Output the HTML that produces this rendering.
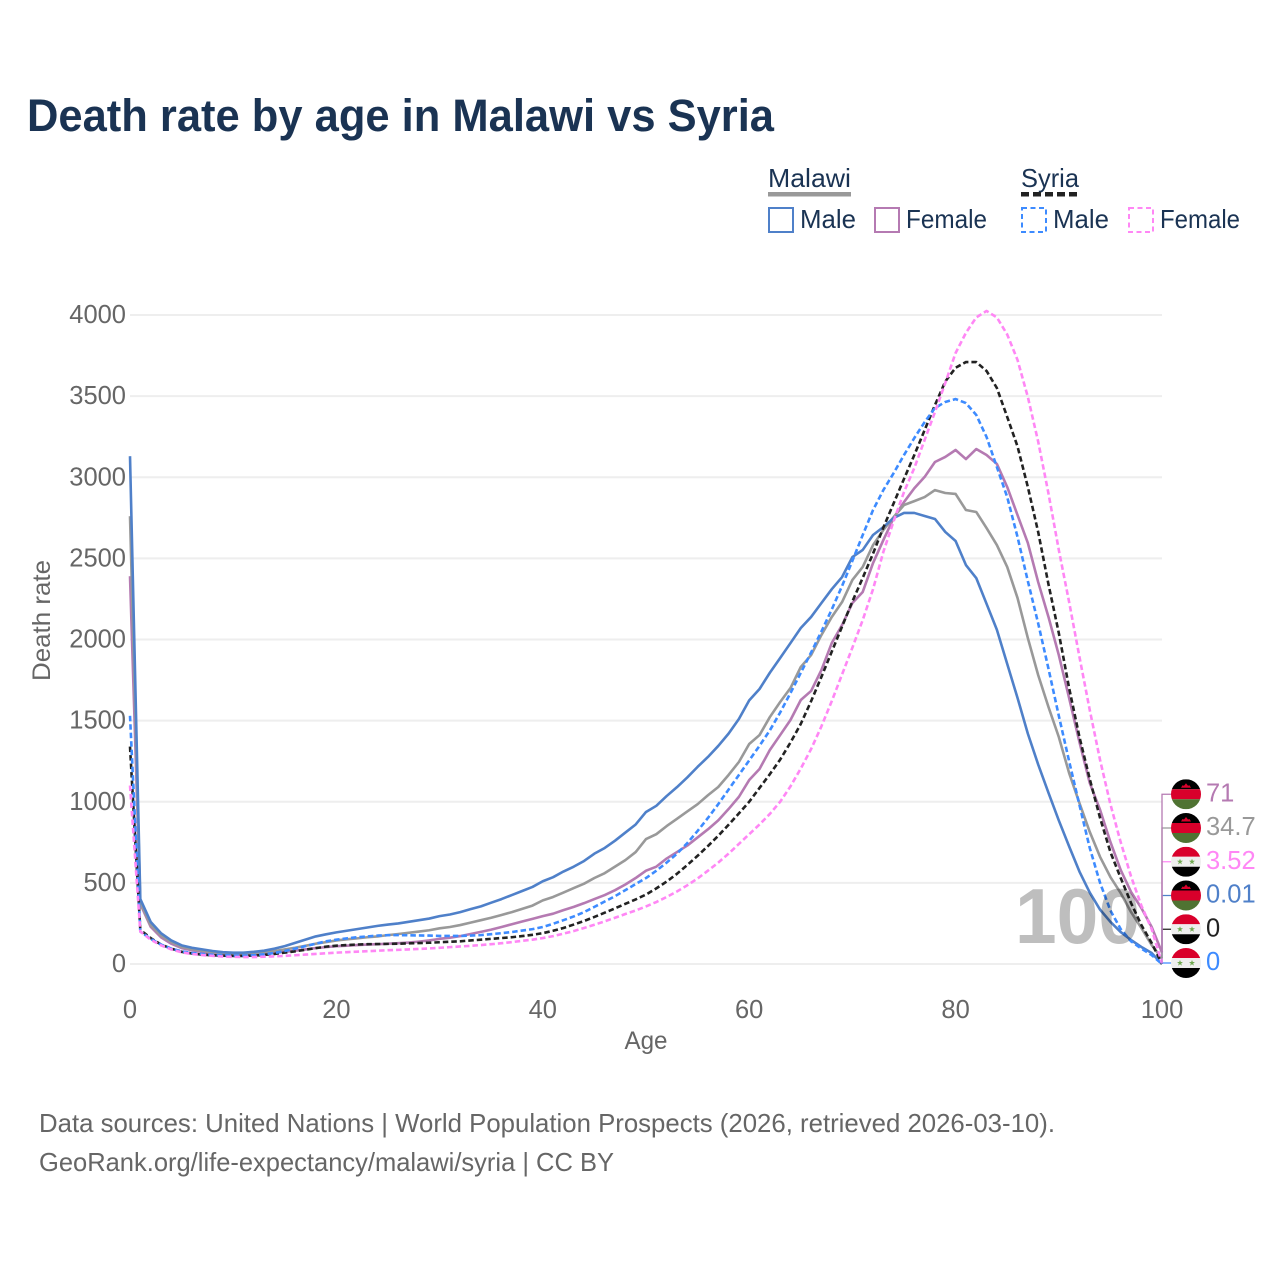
<!DOCTYPE html>
<html lang="en">
<head>
<meta charset="utf-8">
<title>Death rate by age in Malawi vs Syria</title>
<style>
html,body{margin:0;padding:0;background:#fff;}
svg{display:block;}
text{font-family:"Liberation Sans",sans-serif;}
</style>
</head>
<body>
<svg id="chart" xmlns="http://www.w3.org/2000/svg" width="1280" height="1280" viewBox="0 0 1280 1280">
  <rect x="0" y="0" width="1280" height="1280" fill="#fff"/>
  <defs>
    <clipPath id="flag-clip"><circle cx="0" cy="0" r="15"/></clipPath>
  </defs>
  <text x="27" y="131" font-size="45" font-weight="700" fill="#1a3353" textLength="747" lengthAdjust="spacingAndGlyphs">Death rate by age in Malawi vs Syria</text>

  <g>
    <text x="768" y="187" font-size="26" fill="#1a3353" textLength="83" lengthAdjust="spacingAndGlyphs">Malawi</text>
    <rect x="768" y="192" width="83" height="4.5" fill="#999"/>
    <text x="1021" y="187" font-size="26" fill="#1a3353" textLength="58" lengthAdjust="spacingAndGlyphs">Syria</text>
    <line x1="1021" y1="194.2" x2="1079" y2="194.2" stroke="#222" stroke-width="4.5" stroke-dasharray="8 4"/>

    <g>
      <rect x="769" y="208" width="24" height="24" fill="none" stroke="#4f80c9" stroke-width="2"/>
      <text x="800" y="228" font-size="26" fill="#1a3353" textLength="56" lengthAdjust="spacingAndGlyphs">Male</text>
    </g>
    <g>
      <rect x="875" y="208" width="24" height="24" fill="none" stroke="#b57ab2" stroke-width="2"/>
      <text x="906" y="228" font-size="26" fill="#1a3353" textLength="81" lengthAdjust="spacingAndGlyphs">Female</text>
    </g>
    <g>
      <rect x="1022" y="208" width="24" height="24" fill="none" stroke="#3d8bff" stroke-width="2" stroke-dasharray="5 3.5"/>
      <text x="1053" y="228" font-size="26" fill="#1a3353" textLength="56" lengthAdjust="spacingAndGlyphs">Male</text>
    </g>
    <g>
      <rect x="1129" y="208" width="24" height="24" fill="none" stroke="#ff87f5" stroke-width="2" stroke-dasharray="5 3.5"/>
      <text x="1160" y="228" font-size="26" fill="#1a3353" textLength="80" lengthAdjust="spacingAndGlyphs">Female</text>
    </g>
  </g>

  <g id="grid"></g>
  <g id="yticks"></g>
  <g id="xticks"></g>
  <text x="646" y="1049" font-size="25" fill="#666" text-anchor="middle" textLength="43" lengthAdjust="spacingAndGlyphs">Age</text>
  <text transform="translate(50 620.5) rotate(-90)" font-size="25" fill="#666" text-anchor="middle" textLength="121" lengthAdjust="spacingAndGlyphs">Death rate</text>

  <g id="series"></g>
  <text id="age-watermark" x="1015" y="943" font-size="78" font-weight="700" fill="#000" opacity="0.25" textLength="125" lengthAdjust="spacingAndGlyphs">100</text>
  <g id="endlabels"></g>

  <text x="39" y="1132" font-size="26" fill="#666" textLength="1016" lengthAdjust="spacingAndGlyphs">Data sources: United Nations | World Population Prospects (2026, retrieved 2026-03-10).</text>
  <text x="39" y="1171" font-size="26" fill="#666" textLength="575" lengthAdjust="spacingAndGlyphs">GeoRank.org/life-expectancy/malawi/syria | CC BY</text>
</svg>
<script>
const yTickValues = [0, 500, 1000, 1500, 2000, 2500, 3000, 3500, 4000];
const xTickValues = [0, 20, 40, 60, 80, 100];

const malawiFemale = [
  2390,370,230,165,125,98,85,75,68,62,
  60,58,60,63,68,75,82,90,98,104,
  110,113,117,120,122,125,128,132,138,145,
  155,162,172,185,198,212,228,245,262,278,
  295,310,332,352,375,400,425,455,490,530,
  575,600,650,690,730,780,830,885,955,1030,
  1134,1202,1319,1411,1504,1627,1683,1812,1978,2089,
  2225,2293,2471,2613,2749,2847,2932,3002,3094,3125,
  3168,3112,3174,3137,3082,2940,2767,2595,2354,2139,
  1904,1639,1368,1115,950,752,579,444,345,228,
  71
];
const malawiBoth = [
  2760,380,240,175,135,105,92,82,73,68,
  65,65,68,72,80,90,100,112,125,135,
  145,152,158,165,170,178,185,192,200,208,
  220,228,240,255,270,285,302,320,340,360,
  392,413,440,468,495,530,560,600,640,690,
  770,800,850,895,940,985,1040,1091,1165,1245,
  1356,1411,1522,1615,1701,1831,1904,2028,2139,2231,
  2367,2447,2582,2675,2755,2829,2853,2878,2921,2903,
  2897,2798,2786,2687,2582,2447,2256,2009,1781,1584,
  1399,1177,992,814,660,536,437,320,222,117,
  34.7
];
const malawiMale = [
  3130,400,260,190,145,115,100,90,80,73,
  70,70,75,82,95,110,130,150,170,183,
  195,205,215,225,235,243,250,260,270,280,
  295,305,320,338,355,378,400,425,450,475,
  510,535,570,600,635,680,715,760,810,860,
  937,975,1035,1090,1150,1215,1276,1344,1420,1510,
  1625,1695,1795,1886,1978,2071,2139,2225,2310,2385,
  2508,2552,2644,2693,2749,2780,2780,2761,2743,2663,
  2607,2459,2379,2220,2060,1850,1640,1420,1230,1055,
  885,725,570,440,335,260,197,148,105,68,
  0.01
];
const syriaBoth = [
  1340,210,160,120,95,75,65,58,54,51,
  50,50,52,56,62,70,78,88,98,107,
  113,117,120,122,123,124,125,127,129,131,
  134,137,140,145,150,155,160,165,172,180,
  190,205,222,243,265,290,316,343,371,398,
  428,466,508,556,610,667,727,790,858,928,
  1000,1085,1170,1260,1365,1480,1620,1770,1925,2080,
  2235,2380,2530,2690,2840,2990,3137,3291,3445,3590,
  3675,3710,3710,3655,3550,3372,3190,2940,2663,2340,
  2040,1701,1399,1140,900,690,530,376,240,129,
  0
];
const syriaMale = [
  1530,200,155,120,95,78,68,62,57,54,
  52,52,54,60,68,80,95,110,125,140,
  150,158,165,170,175,178,178,177,176,175,
  173,173,173,175,178,184,190,197,206,215,
  228,248,270,293,320,352,385,418,455,493,
  530,575,625,680,745,820,900,985,1075,1165,
  1255,1345,1440,1550,1670,1795,1920,2050,2185,2330,
  2485,2644,2798,2921,3026,3137,3242,3340,3427,3464,
  3482,3457,3384,3248,3063,2878,2632,2360,2100,1820,
  1530,1250,980,715,500,330,215,140,95,55,
  0
];
const syriaFemale = [
  1100,200,150,115,90,72,62,55,50,46,
  44,43,43,45,47,50,54,58,62,66,
  70,73,76,79,82,85,87,90,93,96,
  100,104,108,112,117,122,128,135,143,150,
  160,172,187,203,222,242,263,285,308,330,
  355,382,413,447,485,527,575,625,680,740,
  800,860,925,1000,1095,1205,1325,1465,1620,1785,
  1950,2120,2310,2540,2730,2909,3057,3230,3402,3581,
  3766,3890,3985,4025,3985,3880,3723,3495,3220,2900,
  2552,2231,1893,1565,1257,985,750,540,360,215,
  3.52
];

const SVGNS = "http://www.w3.org/2000/svg";
const xScale = (age) => 130 + age * 10.32;
const yScale = (v) => 964 - v * 0.16225;

function mk(tag, parent) {
  const el = document.createElementNS(SVGNS, tag);
  parent.appendChild(el);
  return el;
}

const gridG = document.getElementById("grid");
const yG = document.getElementById("yticks");
yTickValues.forEach((v) => {
  const ln = mk("line", gridG);
  
  
  ln.setAttribute("x1", xScale(0));
  ln.setAttribute("x2", xScale(100));
  ln.setAttribute("y1", yScale(v));
  ln.setAttribute("y2", yScale(v));
  ln.setAttribute("stroke", "#eeeeee");
  ln.setAttribute("stroke-width", "2");
  const t = mk("text", yG);
  
  
  t.setAttribute("x", 126);
  t.setAttribute("y", yScale(v) + 8);
  t.setAttribute("font-size", "25.5");
  t.setAttribute("fill", "#666");
  t.setAttribute("text-anchor", "end");
  t.textContent = v;
});

const xG = document.getElementById("xticks");
xTickValues.forEach((v) => {
  const t = mk("text", xG);
  
  
  t.setAttribute("x", xScale(v));
  t.setAttribute("y", 1018);
  t.setAttribute("font-size", "25.5");
  t.setAttribute("fill", "#666");
  t.setAttribute("text-anchor", "middle");
  t.textContent = v;
});

const seriesDefs = [
  { key: "malawi-female", values: malawiFemale, color: "#b57ab2", dash: "", flag: "malawi" },
  { key: "malawi-both", values: malawiBoth, color: "#999999", dash: "", flag: "malawi" },
  { key: "malawi-male", values: malawiMale, color: "#4f80c9", dash: "", flag: "malawi" },
  { key: "syria-both", values: syriaBoth, color: "#222222", dash: "5.5 3", flag: "syria" },
  { key: "syria-male", values: syriaMale, color: "#3d8bff", dash: "5.5 3", flag: "syria" },
  { key: "syria-female", values: syriaFemale, color: "#ff87f5", dash: "5.5 3", flag: "syria" }
];

const seriesG = document.getElementById("series");
seriesDefs.forEach((s) => {
  const p = mk("polyline", seriesG);
  
  
  p.setAttribute("points", s.values.map((v, i) => xScale(i).toFixed(2) + "," + yScale(v).toFixed(2)).join(" "));
  p.setAttribute("fill", "none");
  p.setAttribute("stroke", s.color);
  p.setAttribute("stroke-width", "2.6");
  p.setAttribute("stroke-linejoin", "round");
  if (s.dash) p.setAttribute("stroke-dasharray", s.dash);
});

function drawFlag(parent, kind, cy) {
  const g = mk("g", parent);
  
  
  g.setAttribute("transform", "translate(1186 " + cy + ")");
  g.setAttribute("clip-path", "url(#flag-clip)");
  const cols = kind === "malawi" ? ["#000000", "#d9002b", "#4f7332"] : ["#d9002b", "#eeeeee", "#000000"];
  cols.forEach((c, i) => {
    const r = mk("rect", g);
    r.setAttribute("x", -15);
    r.setAttribute("y", -15 + i * 10);
    r.setAttribute("width", 30);
    r.setAttribute("height", 10);
    r.setAttribute("fill", c);
  });
  if (kind === "malawi") {
    const sun = mk("path", g);
    sun.setAttribute("d", "M-5 -6.5 L-3.5 -9 L-2 -8.5 L0 -11 L2 -8.5 L3.5 -9 L5 -6.5 Z");
    sun.setAttribute("fill", "#d9002b");
  } else {
    [-6, 6].forEach((sx) => {
      const st = mk("polygon", g);
      st.setAttribute("points", "0,-3 0.8,-1 3,-1 1.2,0.4 1.9,2.6 0,1.2 -1.9,2.6 -1.2,0.4 -3,-1 -0.8,-1");
      st.setAttribute("transform", "translate(" + sx + " 0)");
      st.setAttribute("fill", "#6fa84f");
    });
  }
}

const endG = document.getElementById("endlabels");
const ranked = seriesDefs.map((s, idx) => ({ s, idx, last: s.values[s.values.length - 1] }))
  .sort((a, b) => a.last - b.last || (a.s.key === "syria-male" ? -1 : 1));
ranked.forEach((r, i) => {
  const slotY = 963 - i * 33.75;
  const lead = mk("polyline", endG);
  
  
  lead.setAttribute("points", xScale(100) + "," + yScale(r.last).toFixed(2) + " " + xScale(100) + "," + slotY + " 1172," + slotY);
  lead.setAttribute("fill", "none");
  lead.setAttribute("stroke", r.s.color);
  lead.setAttribute("stroke-width", "1.3");
  drawFlag(endG, r.s.flag, slotY);
  const t = mk("text", endG);
  
  
  t.setAttribute("x", 1206);
  t.setAttribute("y", slotY + 7);
  t.setAttribute("font-size", "25.5");
  t.setAttribute("fill", r.s.color);
  t.textContent = r.last;
});
</script>
</body>
</html>
